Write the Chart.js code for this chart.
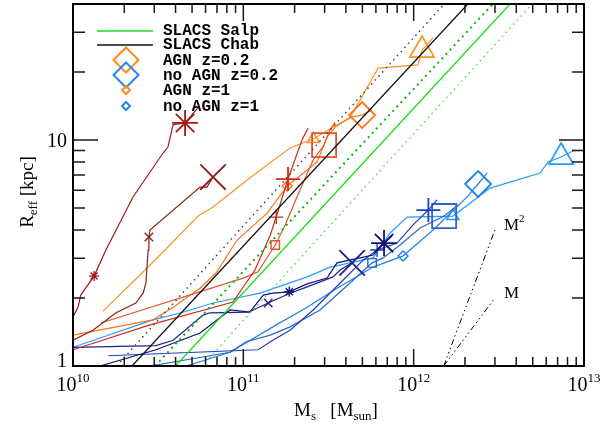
<!DOCTYPE html>
<html>
<head>
<meta charset="utf-8">
<script src="https://cdn.jsdelivr.net/npm/chart.js@4.4.1/dist/chart.umd.min.js"></script>
<style>
  html, body { margin:0; padding:0; background:#fff; }
  #wrap { width:609px; height:424px; }
</style>
</head>
<body>
<div id="wrap"><canvas id="chart" width="609" height="424"></canvas></div>
<script>
// stellar mass [M_sun] and effective radius [kpc] along each track
// AGN runs
const agnStarM = [1.00e10,1.07e10,1.11e10,1.33e10,1.56e10,2.25e10,3.38e10,3.61e10,3.87e10,4.55e10,5.42e10];
const agnStarR = [1.65,1.82,2.06,2.50,3.26,5.60,8.76,9.31,11.7,11.9,13.9];
const agnXM = [1.00e10,1.31e10,1.79e10,2.34e10,2.58e10,2.68e10,2.76e10,2.79e10,2.83e10,5.57e10,6.12e10,6.64e10];
const agnXR = [1.30,1.44,1.72,1.90,2.10,2.33,3.26,3.72,4.00,6.19,6.19,6.86];
const agnPlusM = [1.00e10,2.83e10,8.70e10,1.17e11,1.44e11,1.56e11,1.71e11,1.83e11,2.21e11,2.40e11];
const agnPlusR = [1.18,1.52,1.92,2.66,3.80,4.56,5.71,6.72,10.0,11.3];
const agnSquareM = [1.46e10,9.96e10,1.22e11,1.54e11,1.76e11,2.15e11,2.57e11,2.98e11,3.23e11,3.46e11];
const agnSquareR = [1.55,2.45,2.61,3.43,4.21,6.01,8.16,9.50,11.1,12.0];
const agnDiamondM = [1.00e10,2.95e10,3.87e10,5.57e10,6.92e10,9.19e10,1.38e11,1.81e11,2.37e11,2.71e11,3.10e11,3.46e11,4.23e11,4.98e11,5.70e11];
const agnDiamondR = [1.37,1.60,1.82,2.21,2.58,3.61,4.75,6.26,7.37,7.99,10.3,11.4,12.6,12.9,13.6];
const agnTriM = [1.50e10,2.65e10,3.47e10,5.42e10,6.64e10,1.09e11,1.88e11,2.57e11,3.36e11,4.23e11,6.18e11,1.06e12,1.12e12,1.30e12];
const agnTriR = [1.75,2.66,3.26,4.61,5.05,6.79,9.22,10.1,11.4,12.5,20.8,21.5,25.0,28.3];

// no AGN runs
const noXM = [1.00e10,3.07e10,3.87e10,5.80e10,6.37e10,1.07e11,1.40e11,1.88e11,2.37e11,3.36e11,3.70e11,4.35e11];
const noXR = [1.21,1.23,1.30,1.68,1.72,1.73,1.90,2.10,2.24,2.48,2.66,2.86];
const noStarM = [1.44e10,3.07e10,5.57e10,8.36e10,1.09e11,1.31e11,1.49e11,1.86e11,2.37e11,3.10e11,3.55e11,4.84e11,5.78e11,6.70e11,7.47e11];
const noStarR = [1.00,1.18,1.40,1.77,1.73,2.06,2.10,2.13,2.31,2.45,2.86,3.01,3.10,3.50,3.76];
const noPlusM = [1.61e10,1.22e11,1.49e11,1.88e11,2.57e11,3.70e11,5.05e11,6.10e11,7.99e11,9.92e11,1.22e12,1.37e12];
const noPlusR = [1.11,1.18,1.30,1.44,1.77,2.33,2.94,3.26,3.50,4.21,4.90,5.43];
const noSquareM = [2.83e10,8.36e10,1.04e11,1.44e11,1.88e11,2.82e11,4.23e11,5.70e11,6.61e11,8.32e11,1.09e12,1.51e12,1.82e12];
const noSquareR = [1.00,1.15,1.28,1.37,1.49,1.77,2.33,2.86,3.01,3.43,4.08,4.61,5.16];
const noDiamondM = [4.43e10,8.36e10,1.49e11,2.37e11,3.55e11,5.78e11,8.66e11,1.30e12,2.06e12,2.39e12,2.70e12];
const noDiamondR = [0.99,1.15,1.49,1.82,2.21,2.74,3.07,4.00,5.60,6.39,7.14];
const noTriM = [1.00e10,2.95e10,4.43e10,6.64e10,1.25e11,1.60e11,2.37e11,3.23e11,5.78e11,7.27e11,9.15e11,1.70e12,2.81e12,5.52e12,6.15e12,7.34e12,8.87e12];
const noTriR = [1.21,1.60,1.73,1.90,2.10,2.24,2.48,2.74,3.01,3.88,4.56,4.61,6.13,7.14,7.99,8.41,9.03];

// SLACS relations (two ends each)
const slacsR = [1, 40];
const salpM = [4.00e10, 3.68e12];
const salpLoM = [3.03e10, 2.92e12];
const salpHiM = [5.71e10, 4.95e12];
const chabM = [2.22e10, 2.08e12];
const chabLoM = [1.80e10, 1.51e12];

// slope guides
const guideM = [1.5e12, 3.0e12];
const slopeOneR = [1, 2];
const slopeTwoR = [1, 4];

const xTicks = [1e10, 1e11, 1e12, 1e13];
const yTicks = [1, 10];
const legendLabels = ["SLACS Salp","SLACS Chab","AGN z=0.2","no AGN z=0.2","AGN z=1","no AGN z=1"];

const serif = '"Liberation Serif", "DejaVu Serif", serif';
const mono = '"Liberation Mono", "DejaVu Sans Mono", monospace';

// [small (z=1), big (z=0.2)] marker radius per style
const markerSize = { star:[5,13], crossRot:[6,18], cross:[7,12], rect:[6,17], rectRot:[5,13], triangle:[7,14] };

const tracks = [
  { m:agnStarM,    r:agnStarR,    z1:3,  z02:9,  style:"star",     color:"#a81818" },
  { m:agnXM,       r:agnXR,       z1:7,  z02:11, style:"crossRot", color:"#8e1c1c" },
  { m:agnPlusM,    r:agnPlusR,    z1:5,  z02:7,  style:"cross",    color:"#cc2a1a" },
  { m:agnSquareM,  r:agnSquareR,  z1:3,  z02:7,  style:"rect",     color:"#e0562a" },
  { m:agnDiamondM, r:agnDiamondR, z1:7,  z02:13, style:"rectRot",  color:"#ff7418" },
  { m:agnTriM,     r:agnTriR,     z1:7,  z02:12, style:"triangle", color:"#ff9424" },
  { m:noXM,        r:noXR,        z1:6,  z02:11, style:"crossRot", color:"#20208e" },
  { m:noStarM,     r:noStarR,     z1:7,  z02:13, style:"star",     color:"#121280" },
  { m:noPlusM,     r:noPlusR,     z1:7,  z02:10, style:"cross",    color:"#1e40b8" },
  { m:noSquareM,   r:noSquareR,   z1:7,  z02:11, style:"rect",     color:"#2a66cc" },
  { m:noDiamondM,  r:noDiamondR,  z1:6,  z02:9,  style:"rectRot",  color:"#1e82e8" },
  { m:noTriM,      r:noTriR,      z1:11, z02:15, style:"triangle", color:"#22a0ff" }
];

const pts = (m, r) => m.map((v, i) => ({ x: v, y: r[i] }));

function straight(m, r, color, width, dash) {
  return {
    data: pts(m, r), borderColor: color, borderWidth: width,
    borderDash: dash || [], pointRadius: 0, fill: false
  };
}

const datasets = [
  straight(chabLoM, slacsR, "#444", 1.5, [1.5, 4]),
  straight(salpLoM, slacsR, "#10b010", 2, [2, 4]),
  straight(salpHiM, slacsR, "#50e050", 1.5, [1.5, 4]),
  straight(salpM, slacsR, "#14e014", 1.3),
  straight(chabM, slacsR, "#111", 1.3),
  straight(guideM, slopeTwoR, "#000", 1, [6, 3, 1.5, 3, 1.5, 3, 1.5, 3]),
  straight(guideM, slopeOneR, "#000", 1, [6, 3, 1.5, 3, 1.5, 3, 1.5, 3])
];

tracks.forEach(t => {
  const sz = markerSize[t.style];
  datasets.push({
    data: pts(t.m, t.r),
    borderColor: t.color,
    borderWidth: 1.2,
    fill: false,
    pointStyle: t.style,
    pointRadius: t.m.map((_, i) => i === t.z1 ? sz[0] : i === t.z02 ? sz[1] : 0),
    pointBorderColor: t.color,
    pointBackgroundColor: "rgba(0,0,0,0)",
    pointBorderWidth: t.m.map((_, i) => i === t.z02 ? 1.8 : 1.4)
  });
});

function drawParts(ctx, parts, x, y, align) {
  let w = 0;
  parts.forEach(p => { ctx.font = p.size + "px " + serif; p.w = ctx.measureText(p.t).width; w += p.w; });
  let cx = align === "center" ? x - w / 2 : align === "right" ? x - w : x;
  ctx.textAlign = "left";
  ctx.textBaseline = "alphabetic";
  parts.forEach(p => {
    ctx.font = p.size + "px " + serif;
    ctx.fillText(p.t, cx, y + (p.dy || 0));
    cx += p.w;
  });
}

function diamond(ctx, x, y, r, color, lw) {
  ctx.beginPath();
  ctx.moveTo(x, y - r); ctx.lineTo(x + r, y); ctx.lineTo(x, y + r); ctx.lineTo(x - r, y);
  ctx.closePath();
  ctx.strokeStyle = color; ctx.lineWidth = lw; ctx.stroke();
}

const decorations = {
  id: "decorations",
  afterDatasetsDraw(chart) {
    const { ctx, chartArea: a, scales: { x, y } } = chart;
    ctx.save();
    ctx.strokeStyle = "#1a1a1a";
    ctx.lineWidth = 1.5;

    // x ticks, inside, top and bottom
    for (let d = 10; d < 13; d++) {
      for (let k = 1; k <= 9; k++) {
        const px = x.getPixelForValue(k * Math.pow(10, d));
        const len = k === 1 ? 17 : 9;
        ctx.beginPath();
        ctx.moveTo(px, a.bottom); ctx.lineTo(px, a.bottom - len);
        ctx.moveTo(px, a.top); ctx.lineTo(px, a.top + len);
        ctx.stroke();
      }
    }
    // y ticks, inside, left and right
    for (let d = 0; d < 2; d++) {
      for (let k = 1; k <= 9; k++) {
        const v = k * Math.pow(10, d);
        if (v > 40) continue;
        const py = y.getPixelForValue(v);
        const len = k === 1 ? 25 : 12;
        ctx.beginPath();
        ctx.moveTo(a.left, py); ctx.lineTo(a.left + len, py);
        ctx.moveTo(a.right, py); ctx.lineTo(a.right - len, py);
        ctx.stroke();
      }
    }
    ctx.lineWidth = 2;
    ctx.strokeStyle = "#000";
    ctx.strokeRect(a.left, a.top, a.right - a.left, a.bottom - a.top);

    ctx.fillStyle = "#000";
    xTicks.forEach(v => {
      const px = x.getPixelForValue(v);
      const e = String(Math.round(Math.log10(v)));
      drawParts(ctx, [{ t: "10", size: 20 }, { t: e, size: 13, dy: -9 }], px, a.bottom + 25, "center");
    });
    yTicks.forEach(v => {
      const py = y.getPixelForValue(v);
      drawParts(ctx, [{ t: String(v), size: 20 }], a.left - 6, py + (v === 1 ? 1 : 7), "right");
    });

    // axis titles
    drawParts(ctx, [
      { t: "M", size: 19 }, { t: "s", size: 13, dy: 4 },
      { t: "   [M", size: 19 }, { t: "sun", size: 13, dy: 4 }, { t: "]", size: 19 }
    ], 336, 416, "center");
    ctx.save();
    ctx.translate(33, 192);
    ctx.rotate(-Math.PI / 2);
    drawParts(ctx, [{ t: "R", size: 19 }, { t: "eff", size: 13, dy: 4 }, { t: " [kpc]", size: 19 }], 0, 0, "center");
    ctx.restore();

    // slope guide labels
    const gx = x.getPixelForValue(guideM[1]);
    drawParts(ctx, [{ t: "M", size: 17 }, { t: "2", size: 11, dy: -8 }], gx + 9, y.getPixelForValue(slopeTwoR[1]), "left");
    drawParts(ctx, [{ t: "M", size: 17 }], gx + 9, y.getPixelForValue(slopeOneR[1]), "left");

    // legend
    const lx = 97, tx = 163;
    const rows = [30, 44, 60, 75, 90, 106];
    ctx.lineWidth = 1.5;
    ["#14e014", "#111"].forEach((c, i) => {
      ctx.strokeStyle = c;
      ctx.beginPath(); ctx.moveTo(lx, rows[i] + 1); ctx.lineTo(lx + 56, rows[i] + 1); ctx.stroke();
    });
    diamond(ctx, 126, rows[2], 12.5, "#ff8c1a", 2);
    diamond(ctx, 126, rows[3], 12.5, "#2288ee", 2);
    diamond(ctx, 126, rows[4], 4, "#ff8c1a", 2);
    diamond(ctx, 126, rows[5], 4, "#2288ee", 2);
    ctx.fillStyle = "#000";
    ctx.font = "bold 16px " + mono;
    ctx.textAlign = "left";
    ctx.textBaseline = "middle";
    legendLabels.forEach((s, i) => ctx.fillText(s, tx, rows[i] + 1));
    ctx.restore();
  }
};

new Chart(document.getElementById("chart"), {
  type: "line",
  data: { datasets },
  options: {
    responsive: false,
    animation: false,
    layout: { autoPadding: false, padding: { left: 73, right: 25, top: 4, bottom: 58 } },
    plugins: { legend: { display: false }, tooltip: { enabled: false } },
    scales: {
      x: { type: "logarithmic", min: 1e10, max: 1e13, display: false },
      y: { type: "logarithmic", min: 1, max: 40, display: false }
    }
  },
  plugins: [decorations]
});
</script>
</body>
</html>
